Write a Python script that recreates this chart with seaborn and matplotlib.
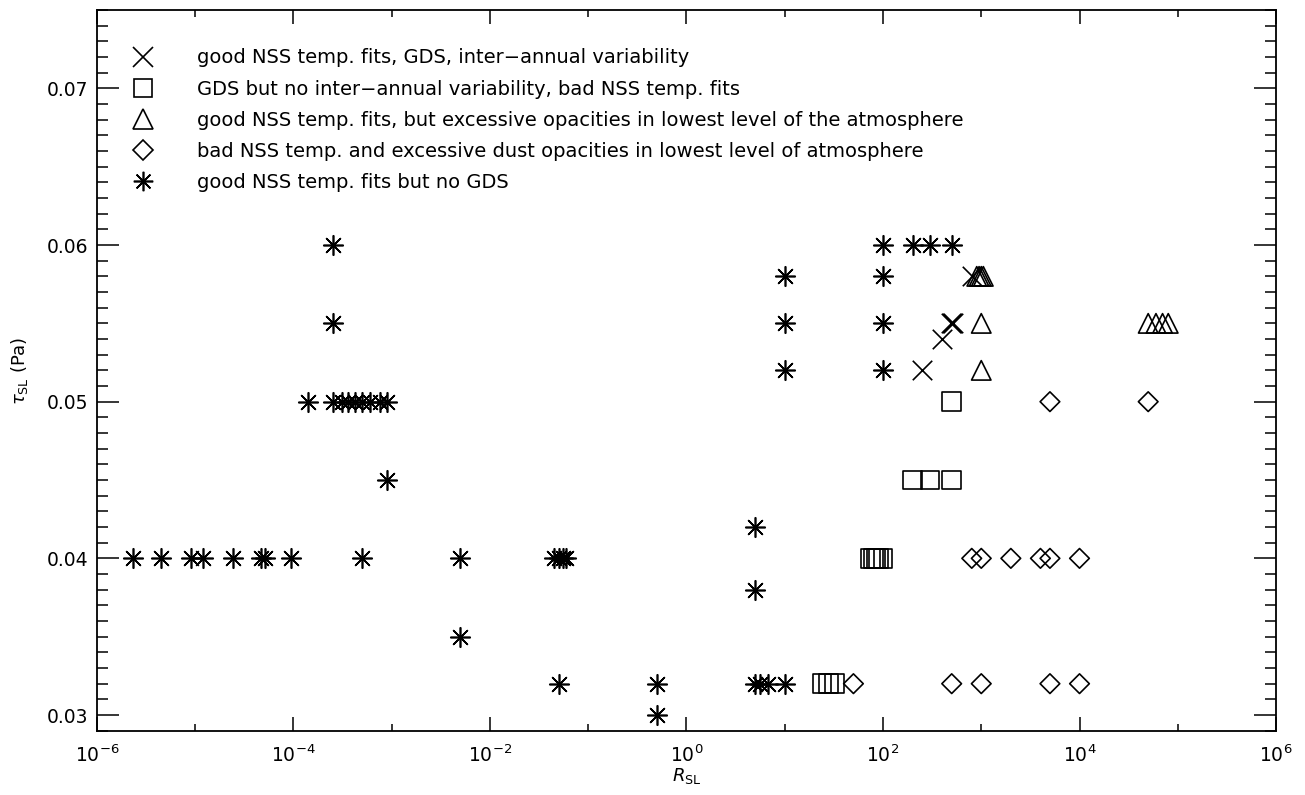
import numpy as np
import pandas as pd
import matplotlib
matplotlib.use("Agg")
import matplotlib.pyplot as plt
import seaborn as sns
from matplotlib.lines import Line2D
from matplotlib.ticker import LogLocator, LogFormatterSciNotation, MultipleLocator, NullFormatter

# ---------------- data ----------------
# good NSS temp. fits, GDS, inter-annual variability (X)
cross_R   = [800, 490, 500, 510, 400, 250]
cross_tau = [0.058, 0.055, 0.055, 0.055, 0.054, 0.052]

# GDS but no inter-annual variability, bad NSS temp. fits (square)
square_R   = [500, 200, 300, 500, 75, 80, 85, 90, 100, 24, 28, 32]
square_tau = [0.050, 0.045, 0.045, 0.045, 0.040, 0.040, 0.040, 0.040, 0.040, 0.032, 0.032, 0.032]

# good NSS temp. fits, but excessive opacities in lowest level (triangle)
tri_R   = [900, 950, 1000, 1050, 1000, 1000, 5e4, 6e4, 7e4, 8e4]
tri_tau = [0.058, 0.058, 0.058, 0.058, 0.055, 0.052, 0.055, 0.055, 0.055, 0.055]

# bad NSS temp. and excessive dust opacities (diamond)
diam_R   = [5000, 5e4, 800, 1000, 2000, 4000, 5000, 1e4, 50, 500, 1000, 5000, 1e4]
diam_tau = [0.050, 0.050, 0.040, 0.040, 0.040, 0.040, 0.040, 0.040, 0.032, 0.032, 0.032, 0.032, 0.032]

# good NSS temp. fits but no GDS (asterisk)
ast_R = [2.3e-6, 4.5e-6, 9e-6, 1.2e-5, 2.4e-5, 4.7e-5, 5.1e-5, 9.4e-5, 5e-4,
         1.4e-4, 2.5e-4, 3.1e-4, 3.6e-4, 4.2e-4, 5e-4, 6e-4, 7.6e-4, 8.9e-4,
         2.5e-4, 2.5e-4, 8.9e-4,
         5e-3, 5e-3, 0.045, 0.05, 0.055, 0.06, 0.05,
         0.5, 0.5, 5, 5, 5, 5.6, 6.8, 10,
         10, 10, 10, 100, 100, 100, 100, 200, 300, 500]
ast_tau = [0.040, 0.040, 0.040, 0.040, 0.040, 0.040, 0.040, 0.040, 0.040,
           0.050, 0.050, 0.050, 0.050, 0.050, 0.050, 0.050, 0.050, 0.050,
           0.060, 0.055, 0.045,
           0.040, 0.035, 0.040, 0.040, 0.040, 0.040, 0.032,
           0.032, 0.030, 0.042, 0.038, 0.032, 0.032, 0.032, 0.032,
           0.058, 0.055, 0.052, 0.060, 0.058, 0.055, 0.052, 0.060, 0.060, 0.060]

labels = [
    "good NSS temp. fits, GDS, inter\u2212annual variability",
    "GDS but no inter\u2212annual variability, bad NSS temp. fits",
    "good NSS temp. fits, but excessive opacities in lowest level of the atmosphere",
    "bad NSS temp. and excessive dust opacities in lowest level of atmosphere",
    "good NSS temp. fits but no GDS",
]

# ---------------- plot ----------------
sns.set_theme(style="white")
plt.rcParams["font.family"] = ["DejaVu Sans"]
plt.rcParams["mathtext.fontset"] = "dejavusans"
for k in ("text.color", "axes.labelcolor", "xtick.color", "ytick.color"):
    plt.rcParams[k] = "black"

fig = plt.figure(figsize=(13.05, 7.95), dpi=100)
ax = fig.add_axes([0.0743, 0.0809, 0.9035, 0.9065])

lw = 1.2
ast_marker = (8, 2, 0)

sns.scatterplot(x=ast_R, y=ast_tau, marker=ast_marker, s=14**2, color="black",
                linewidth=lw, ax=ax, legend=False)
sns.scatterplot(x=cross_R, y=cross_tau, marker="x", s=14**2, color="black",
                linewidth=lw, ax=ax, legend=False)
sns.scatterplot(x=square_R, y=square_tau, marker="s", s=13.5**2, facecolor="none",
                edgecolor="black", linewidth=lw, ax=ax, legend=False)
sns.scatterplot(x=tri_R, y=tri_tau, marker="^", s=14**2, facecolor="none",
                edgecolor="black", linewidth=lw, ax=ax, legend=False)
sns.scatterplot(x=diam_R, y=diam_tau, marker="D", s=10**2, facecolor="none",
                edgecolor="black", linewidth=lw, ax=ax, legend=False)

ax.set_xscale("log")
ax.set_xlim(1e-6, 1e6)
ax.set_ylim(0.029, 0.075)

ax.xaxis.set_major_locator(LogLocator(base=100.0, numticks=20))
ax.xaxis.set_major_formatter(LogFormatterSciNotation(base=10.0))
ax.xaxis.set_minor_locator(LogLocator(base=10.0, subs=(1.0,), numticks=30))
ax.xaxis.set_minor_formatter(NullFormatter())
ax.yaxis.set_major_locator(MultipleLocator(0.01))
ax.yaxis.set_minor_locator(MultipleLocator(0.001))
ax.yaxis.set_major_formatter(matplotlib.ticker.FormatStrFormatter("%.2f"))

ax.tick_params(axis="x", which="major", direction="in", length=10, width=1.1,
               top=True, bottom=True, labelsize=13.5, pad=10, color="black")
ax.tick_params(axis="x", which="minor", direction="in", length=5, width=1.1,
               top=True, bottom=True, color="black")
ax.tick_params(axis="y", which="major", direction="in", length=16, width=1.1,
               left=True, right=True, labelsize=13.5, pad=6, color="black")
ax.tick_params(axis="y", which="minor", direction="in", length=8, width=1.1,
               left=True, right=True, color="black")

for sp in ax.spines.values():
    sp.set_color("black")
    sp.set_linewidth(1.3)

ax.set_xlabel(r"$R_{\rm SL}$", fontsize=13, labelpad=0)
ax.set_ylabel(r"$\tau_{\rm SL}$ (Pa)", fontsize=13, labelpad=12)

handles = [
    Line2D([], [], linestyle="none", marker="x", markersize=14, markeredgewidth=lw, color="black"),
    Line2D([], [], linestyle="none", marker="s", markersize=13.5, markeredgewidth=lw,
           markerfacecolor="none", markeredgecolor="black"),
    Line2D([], [], linestyle="none", marker="^", markersize=14, markeredgewidth=lw,
           markerfacecolor="none", markeredgecolor="black"),
    Line2D([], [], linestyle="none", marker="D", markersize=10, markeredgewidth=lw,
           markerfacecolor="none", markeredgecolor="black"),
    Line2D([], [], linestyle="none", marker=ast_marker, markersize=14, markeredgewidth=lw,
           color="black"),
]
ax.legend(handles, labels, loc="upper left", bbox_to_anchor=(0.0167, 0.9628),
          frameon=False, fontsize=14, labelspacing=0.62, handletextpad=2.03,
          handlelength=1.5, borderaxespad=0.2)

fig.savefig("out.png", dpi=100)
